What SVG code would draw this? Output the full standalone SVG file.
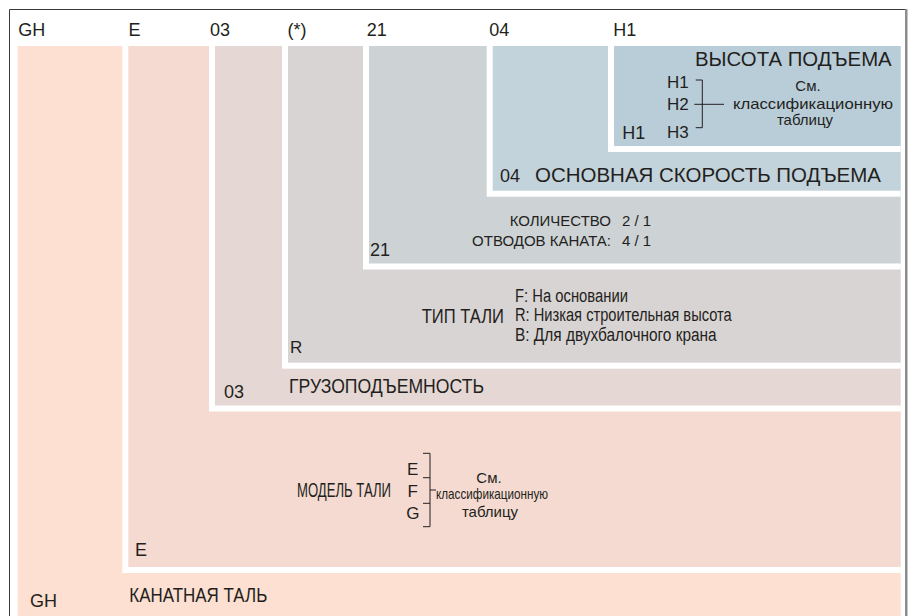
<svg xmlns="http://www.w3.org/2000/svg" width="913" height="616" viewBox="0 0 913 616">
<style>
text{font-family:"Liberation Sans",Arial,sans-serif;fill:#231f20}
.nr{font-family:"Liberation Sans Narrow","Liberation Sans",Arial,sans-serif}
.hd{font-size:18px}
.cd{font-size:18px}
.lb{font-size:20px}
.ds{font-size:18px}
.sm{font-size:15px}
.xs{font-size:15px}
.hk{font-size:17px}
.mid{text-anchor:middle}
.end{text-anchor:end}
.w{fill:#ffffff}
.br{fill:none;stroke:#231f20;stroke-width:1}
</style>
<rect x="0" y="0" width="913" height="616" fill="#ffffff"/>
<g id="frame">
<path d="M9.5,616 V9.5 H905" fill="none" stroke="#3a3a3a" stroke-width="1"/>
<rect x="905" y="9" width="2.5" height="607" fill="#8c8c8c"/>
</g>
<g id="headers">
<text class="hd" x="18.3" y="36">GH</text>
<text class="hd" x="128.5" y="36">E</text>
<text class="hd" x="210" y="36">03</text>
<text class="hd" x="287.5" y="36">(*)</text>
<text class="hd" x="366.7" y="36">21</text>
<text class="hd" x="489.3" y="36">04</text>
<text class="hd" x="613.3" y="36">H1</text>
</g>
<g id="node-gh">
<rect x="17.7" y="46" width="883" height="580" fill="#fde0d1"/>
<text class="cd" x="30" y="607">GH</text>
<text class="lb nr" x="129.3" y="601.7" textLength="138" lengthAdjust="spacingAndGlyphs">КАНАТНАЯ ТАЛЬ</text>
</g>
<g id="node-e">
<rect class="w" x="122.3" y="46" width="778.4" height="527"/>
<rect x="128.3" y="46" width="772.4" height="521" fill="#f4dad0"/>
<text class="cd" x="135" y="556">E</text>
<text class="lb nr" x="297" y="496.7" textLength="94" lengthAdjust="spacingAndGlyphs">МОДЕЛЬ ТАЛИ</text>
<text class="hk" x="407" y="475">E</text>
<text class="hk" x="407.5" y="496.7">F</text>
<text class="hk" x="406.3" y="519.3">G</text>
<text class="xs nr mid" x="489" y="482.5">См.</text>
<text class="xs nr mid" x="492" y="499" textLength="112" lengthAdjust="spacingAndGlyphs">классификационную</text>
<text class="xs nr mid" x="490" y="517">таблицу</text>
</g>
<g id="node-03">
<rect class="w" x="209" y="46" width="691.7" height="365.5"/>
<rect x="215" y="46" width="685.7" height="359.5" fill="#e5d7d3"/>
<text class="cd" x="224" y="398.3">03</text>
<text class="lb nr" x="289" y="393.3" textLength="195" lengthAdjust="spacingAndGlyphs">ГРУЗОПОДЪЕМНОСТЬ</text>
</g>
<g id="node-type">
<rect class="w" x="282" y="46" width="618.7" height="322.7"/>
<rect x="288" y="46" width="612.7" height="316.7" fill="#d9d4d4"/>
<text class="hk" x="290" y="353.3">R</text>
<text class="lb nr" x="421.7" y="323.3" textLength="82.3" lengthAdjust="spacingAndGlyphs">ТИП ТАЛИ</text>
<text class="ds nr" x="515" y="301.7" textLength="113" lengthAdjust="spacingAndGlyphs">F: На основании</text>
<text class="ds nr" x="515" y="321" textLength="216.7" lengthAdjust="spacingAndGlyphs">R: Низкая строительная высота</text>
<text class="ds nr" x="515" y="341" textLength="201.7" lengthAdjust="spacingAndGlyphs">B: Для двухбалочного крана</text>
</g>
<g id="node-21">
<rect class="w" x="363" y="46" width="537.7" height="223.5"/>
<rect x="369" y="46" width="531.7" height="217.5" fill="#cdd2d5"/>
<text class="cd" x="370" y="256">21</text>
<text class="sm end" x="611" y="225.7">КОЛИЧЕСТВО</text>
<text class="sm end" x="611" y="245.7">ОТВОДОВ КАНАТА:</text>
<text class="sm" x="622" y="225.7">2 / 1</text>
<text class="sm" x="622" y="245.7">4 / 1</text>
</g>
<g id="node-04">
<rect class="w" x="486.7" y="46" width="414" height="150.7"/>
<rect x="492.7" y="46" width="408" height="144.7" fill="#c3d3db"/>
<text class="cd" x="500" y="181.7">04</text>
<text class="lb" x="535" y="181.7" textLength="346" lengthAdjust="spacingAndGlyphs">ОСНОВНАЯ СКОРОСТЬ ПОДЪЕМА</text>
</g>
<g id="node-h1">
<rect class="w" x="608" y="46" width="292.7" height="106"/>
<rect x="614" y="46" width="286.7" height="100" fill="#b9cdd9"/>
<text class="lb" x="695" y="65.7" textLength="196.7" lengthAdjust="spacingAndGlyphs">ВЫСОТА ПОДЪЕМА</text>
<text class="hk" x="667" y="88">H1</text>
<text class="hk" x="667" y="110">H2</text>
<text class="hk" x="667" y="137.5">H3</text>
<text class="cd" x="622.3" y="139">H1</text>
<text class="sm mid" x="808" y="90.7">См.</text>
<text class="sm mid" x="813" y="108.5" textLength="160" lengthAdjust="spacingAndGlyphs">классификационную</text>
<text class="sm mid" x="805" y="124.5">таблицу</text>
</g>
<g id="connectors">
<path class="br" d="M695.7,80 H702.3 V127.7 H695.7 M694.3,104.3 H724"/>
<path class="br" d="M423,453.3 H430 V526.7 H423 M423,477.7 H430 M423,503.3 H430 M430,490 H436"/>
</g>
</svg>
